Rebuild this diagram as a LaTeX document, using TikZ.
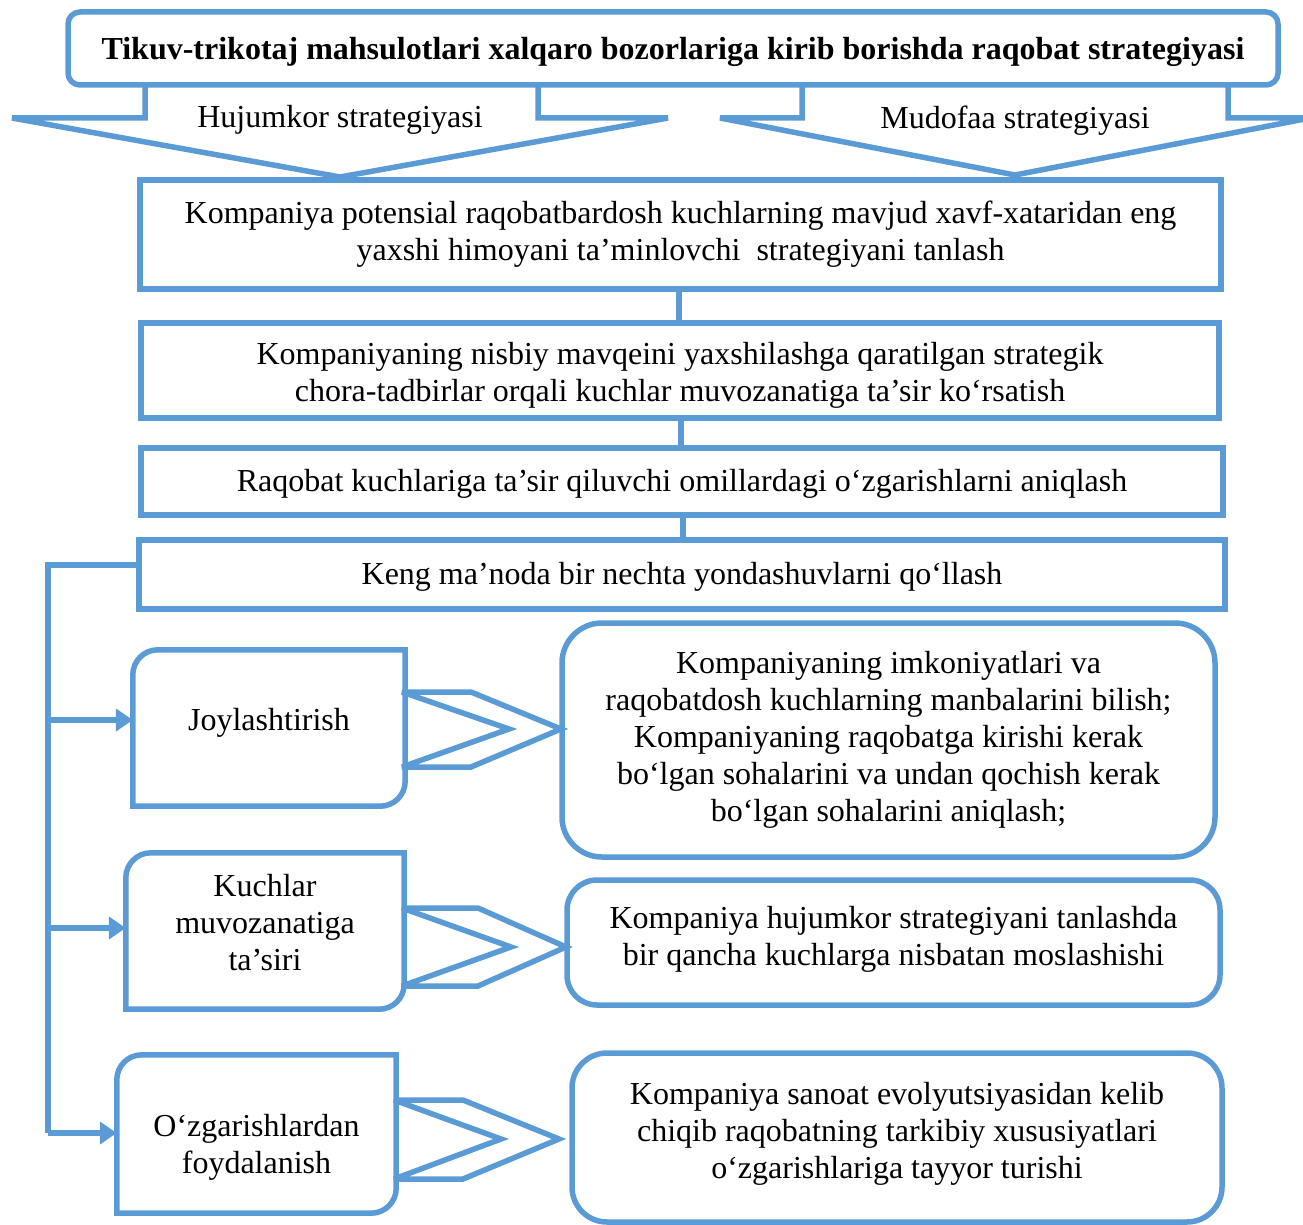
\documentclass[tikz,border=0pt]{standalone}
\usepackage{fontspec}
\setmainfont{Liberation Serif}
\usetikzlibrary{arrows.meta}
\definecolor{lblue}{RGB}{91,155,213}
\begin{document}
\begin{tikzpicture}[x=1pt,y=-1pt,
  ln/.style={draw=lblue,line width=5.5pt},
  tx/.style={font=\fontsize{32}{37}\selectfont, align=center, inner sep=0pt},
  mbox/.style={ln, tx, rectangle},
  rbox/.style={ln, tx, rectangle},
  lbox/.style={tx, rectangle},
  chev/.style={ln, line join=miter, miter limit=4},
  arr/.style={draw=lblue, line width=5.5pt, -{Triangle[length=17pt,width=22pt]}}]
\useasboundingbox (0,0) rectangle (1303,1225);
\clip (0,0) rectangle (1303,1225);

% title
\node[ln, rounded corners=12pt, minimum width=1210pt, minimum height=73pt, inner sep=0pt] (T) at (673,48.5) {};
\node[tx, font=\bfseries\fontsize{32}{37}\selectfont] (Tt) at ([yshift=-3pt]T.center)
  {Tikuv-trikotaj mahsulotlari xalqaro bozorlariga kirib borishda raqobat strategiyasi};

% big down arrows
\draw[chev] (145,85) -- (145,118) -- (12,118) -- (340,177) -- (668,118) -- (538,118) -- (538,85);
\draw[chev] (802,85) -- (802,118) -- (720,118) -- (1015,175) -- (1310,118) -- (1228,118) -- (1228,85);
\node[tx] (h) at (340,120) {Hujumkor strategiyasi};
\node[tx] (m) at (1015,121) {Mudofaa strategiyasi};

% main boxes
\node[mbox, minimum width=1081pt, minimum height=109pt] (A) at (680.5,234.5)
  {Kompaniya potensial raqobatbardosh kuchlarning mavjud xavf-xataridan eng\\yaxshi himoyani ta’minlovchi\ \ strategiyani tanlash};
\node[mbox, minimum width=1078pt, minimum height=95pt] (B) at (680,370.5) {};
\node[tx] (Bt) at ([yshift=-5pt]B.center)
  {Kompaniyaning nisbiy mavqeini yaxshilashga qaratilgan strategik\\chora-tadbirlar orqali kuchlar muvozanatiga ta’sir ko‘rsatish};
\node[mbox, minimum width=1082pt, minimum height=67pt] (C) at (682,481.5) {};
\node[tx] (Ct) at ([yshift=-2pt]C.center)
  {Raqobat kuchlariga ta’sir qiluvchi omillardagi o‘zgarishlarni aniqlash};
\node[mbox, minimum width=1086pt, minimum height=69pt] (D) at (682,574.5) {};
\node[tx] (Dt) at ([yshift=-2pt]D.center)
  {Keng ma’noda bir nechta yondashuvlarni qo‘llash};

\draw[ln] (A.south -| 679,0) -- (B.north -| 679,0);
\draw[ln] (B.south -| 681,0) -- (C.north -| 681,0);
\draw[ln] (C.south -| 683,0) -- (D.north -| 683,0);

% left boxes
\node[lbox, minimum width=272pt, minimum height=156pt] (L1) at (269,728) {};
\node[lbox, minimum width=278pt, minimum height=156pt] (L2) at (265,931) {};
\node[lbox, minimum width=279pt, minimum height=158pt] (L3) at (256.5,1134) {};
\node[tx] (L1t) at ([yshift=5pt]L1.center) {Joylashtirish};
\node[tx] (L2t) at ([yshift=8pt]L2.center) {Kuchlar\\muvozanatiga\\ta’siri};
\node[tx] (L3t) at ([yshift=-13pt]L3.center) {O‘zgarishlardan\\foydalanish};
\foreach \n in {L1,L2,L3} {
  \draw[ln, rounded corners=25pt, line cap=rect] (\n.north east) -- (\n.north west) -- (\n.south west);
  \draw[ln, rounded corners=25pt, line cap=rect] (\n.south west) -- (\n.south east) -- (\n.north east);
}

% right boxes
\node[rbox, rounded corners=40pt, minimum width=653pt, minimum height=234pt] (R1) at (888.5,740)
  {Kompaniyaning imkoniyatlari va\\raqobatdosh kuchlarning manbalarini bilish;\\Kompaniyaning raqobatga kirishi kerak\\bo‘lgan sohalarini va undan qochish kerak\\bo‘lgan sohalarini aniqlash;};
\node[rbox, rounded corners=30pt, minimum width=653pt, minimum height=125pt] (R2) at (893.5,942.5) {};
\node[tx] (R2t) at ([yshift=3pt]R2.center)
  {Kompaniya hujumkor strategiyani tanlashda\\bir qancha kuchlarga nisbatan moslashishi};
\node[rbox, rounded corners=35pt, minimum width=650pt, minimum height=169pt] (R3) at (897,1137.5) {};
\node[tx] (R3t) at ([yshift=4pt]R3.center)
  {Kompaniya sanoat evolyutsiyasidan kelib\\chiqib raqobatning tarkibiy xususiyatlari\\o‘zgarishlariga tayyor turishi};

% chevrons
\draw[chev] (402,692) -- (471,692) -- (561,729) -- (471,767) -- (402,767) -- (509,729) -- cycle;
\draw[chev] (402,908) -- (478,908) -- (566,947) -- (478,986) -- (402,986) -- (511,947) -- cycle;
\draw[chev] (394,1100) -- (463,1100) -- (559,1139) -- (463,1179) -- (394,1179) -- (501,1139) -- cycle;

% bus
\coordinate (btop) at (48,565);
\coordinate (bbot) at (48,1133);
\draw[ln] (D.west |- btop) -- (btop) -- (bbot);
\coordinate (b1) at (48,720);
\coordinate (b2) at (48,928);
\coordinate (b3) at (48,1133);
\draw[arr] (b1) -- (b1 -| L1.west);
\draw[arr] (b2) -- (b2 -| L2.west);
\draw[arr] (b3) -- (b3 -| L3.west);
\end{tikzpicture}
\end{document}
